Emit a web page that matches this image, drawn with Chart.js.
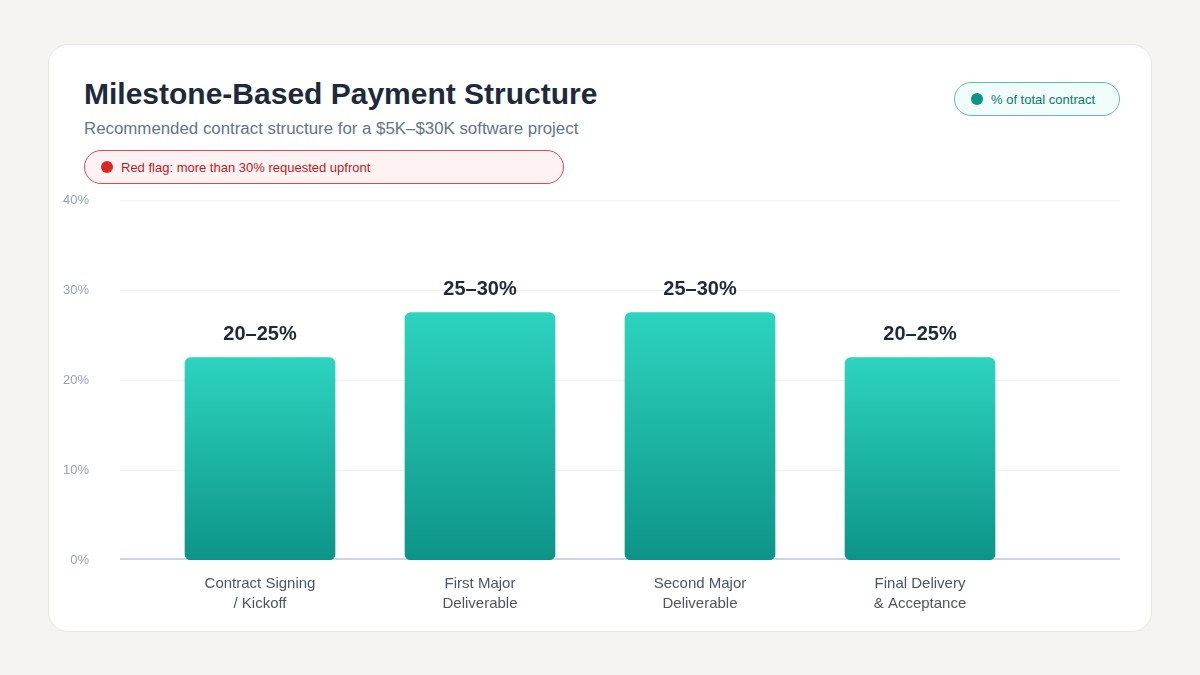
<!DOCTYPE html>
<html>
<head>
<meta charset="utf-8">
<script src="https://cdn.jsdelivr.net/npm/chart.js@4.4.1/dist/chart.umd.min.js"></script>
<style>
  html, body { margin: 0; padding: 0; }
  body {
    width: 1200px; height: 675px; background: #f5f4f0; position: relative; overflow: hidden;
    font-family: "Liberation Sans", Arial, sans-serif;
  }
  .card {
    position: absolute; left: 48px; top: 44px; width: 1102px; height: 586px;
    background: #ffffff; border: 1px solid #e8e6e1; border-radius: 20px;
  }
  .title {
    position: absolute; left: 84px; top: 76px; margin: 0;
    font-size: 30px; font-weight: 700; color: #1e293b; line-height: 36px;
  }
  .subtitle {
    position: absolute; left: 84px; top: 119px; margin: 0;
    font-size: 16.85px; color: #64748b; line-height: 20px;
  }
  .pill {
    position: absolute; box-sizing: border-box; height: 34px; border-radius: 17px;
    display: flex; align-items: center; font-size: 13px;
  }
  .pill .dot { width: 12px; height: 12px; border-radius: 50%; margin-right: 8px; }
  .flag { left: 84px; top: 150px; width: 480px; background: #fef2f2; border: 1px solid #e5484d; color: #b91c1c; padding-left: 16px; }
  .flag .dot { background: #dc2626; }
  .legend { left: 954px; top: 82px; width: 166px; background: #f0fdfa; border: 1px solid #5fbfb0; color: #0f766e; padding-left: 16px; }
  .legend .dot { background: #0d9488; }
  #wrap { position: absolute; left: 0; top: 0; width: 1200px; height: 675px; }
</style>
</head>
<body>
<div class="card"></div>
<h1 class="title">Milestone-Based Payment Structure</h1>
<p class="subtitle">Recommended contract structure for a $5K–$30K software project</p>
<div class="pill flag"><span class="dot"></span>Red flag: more than 30% requested upfront</div>
<div class="pill legend"><span class="dot"></span>% of total contract</div>
<div id="wrap"><canvas id="chart"></canvas></div>

<script>
// Milestones and recommended share of the contract
const milestones = [
  ['Contract Signing', '/ Kickoff'],
  ['First Major', 'Deliverable'],
  ['Second Major', 'Deliverable'],
  ['Final Delivery', '& Acceptance'],
];
const shareMid = [22.5, 27.5, 27.5, 22.5];
const shareLabels = ['20–25%', '25–30%', '25–30%', '20–25%'];
const yTicks = [0, 10, 20, 30, 40];

// grid + axis line that run wider than the bar area
const wideGrid = {
  id: 'wideGrid',
  beforeDatasetsDraw(chart) {
    const { ctx, scales: { y } } = chart;
    ctx.save();
    yTicks.forEach((v) => {
      const py = Math.round(y.getPixelForValue(v));
      ctx.beginPath();
      if (v === 0) {
        ctx.strokeStyle = '#cbd5e1';
        ctx.lineWidth = 2;
        ctx.moveTo(120, py - 1);
        ctx.lineTo(1120, py - 1);
      } else {
        ctx.strokeStyle = '#f1f1ef';
        ctx.lineWidth = 1;
        ctx.moveTo(120, py + 0.5);
        ctx.lineTo(1120, py + 0.5);
      }
      ctx.stroke();
    });
    ctx.restore();
  },
};

// range text above each bar
const barLabels = {
  id: 'barLabels',
  afterDatasetsDraw(chart) {
    const { ctx } = chart;
    const meta = chart.getDatasetMeta(0);
    ctx.save();
    ctx.font = 'bold 20px "Liberation Sans", Arial, sans-serif';
    ctx.fillStyle = '#1e293b';
    ctx.textAlign = 'center';
    ctx.textBaseline = 'middle';
    meta.data.forEach((bar, i) => {
      ctx.fillText(shareLabels[i], bar.x, bar.y - 23);
    });
    ctx.restore();
  },
};

const ctx = document.getElementById('chart').getContext('2d');

new Chart(ctx, {
  type: 'bar',
  data: {
    labels: milestones,
    datasets: [
      {
        label: '% of total contract',
        data: shareMid,
        backgroundColor: (c) => {
          const chart = c.chart;
          if (!chart.chartArea || c.parsed === undefined) return '#14b8a6';
          const y = chart.scales.y;
          const top = y.getPixelForValue(c.parsed.y);
          const bottom = y.getPixelForValue(0);
          const g = chart.ctx.createLinearGradient(0, top, 0, bottom);
          g.addColorStop(0, '#2dd4bf');
          g.addColorStop(1, '#0d9488');
          return g;
        },
        borderRadius: 6,
        borderSkipped: false,
        barThickness: 150,
      },
    ],
  },
  options: {
    responsive: true,
    maintainAspectRatio: false,
    animation: false,
    layout: { padding: { left: 0, right: 170, top: 200, bottom: 55 } },
    plugins: {
      legend: { display: false },
      tooltip: { enabled: false },
    },
    scales: {
      x: {
        grid: { display: false, drawTicks: false },
        border: { display: false },
        afterFit: (s) => { s.height = 60; },
        ticks: {
          color: '#4b5563',
          padding: 14,
          font: { size: 15, family: '"Liberation Sans", Arial, sans-serif', lineHeight: 1.34 },
        },
      },
      y: {
        min: 0,
        max: 40,
        afterFit: (s) => { s.width = 150; },
        afterBuildTicks: (s) => { s.ticks = yTicks.map((v) => ({ value: v })); },
        grid: { display: false, drawTicks: false },
        border: { display: false },
        ticks: {
          color: '#94a3b8',
          padding: 61,
          font: { size: 13, family: '"Liberation Sans", Arial, sans-serif' },
          callback: (v) => v + '%',
        },
      },
    },
  },
  plugins: [wideGrid, barLabels],
});
</script>
</body>
</html>
